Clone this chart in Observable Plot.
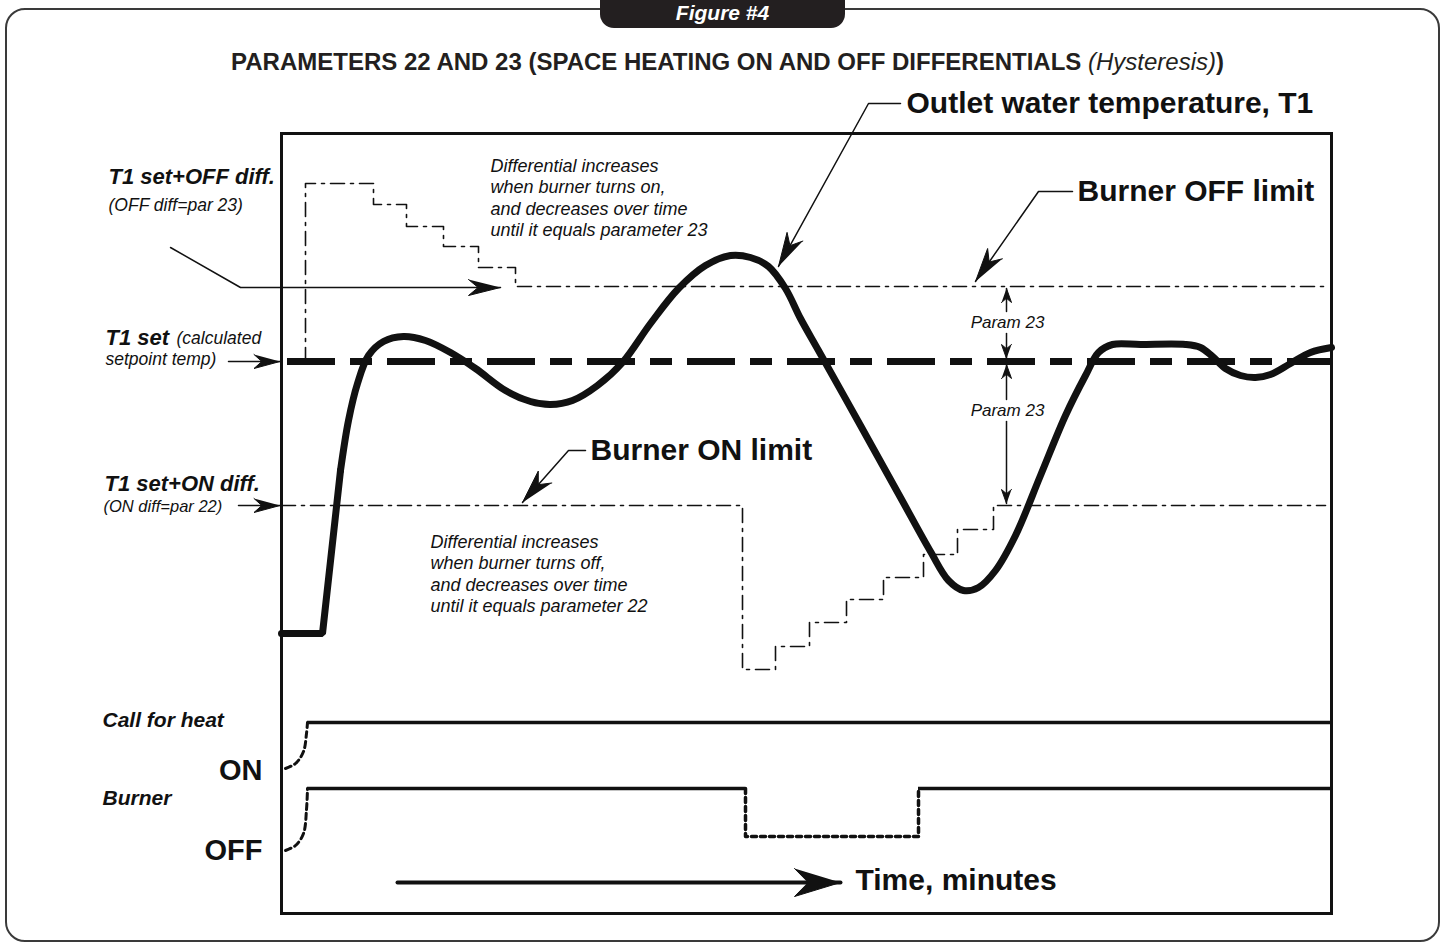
<!DOCTYPE html>
<html>
<head>
<meta charset="utf-8">
<script src="https://cdn.jsdelivr.net/npm/d3@7"></script>
<script src="https://cdn.jsdelivr.net/npm/@observablehq/plot@0.6"></script>
<style>
html, body { margin: 0; padding: 0; background: #fff; }
#wrap { position: relative; width: 1445px; height: 947px; overflow: hidden; font-family: "Liberation Sans", Arial, sans-serif; color: #1a1a1a; }
#chart { position: absolute; left: 0; top: 0; }
#outer { position: absolute; left: 5px; top: 8px; width: 1435px; height: 934px; box-sizing: border-box; border: 2px solid #3a3a3a; border-radius: 20px; pointer-events: none; }
#tab { position: absolute; left: 600px; top: -12px; width: 245px; height: 40px; background: #231f20; border-radius: 0 0 14px 14px; color: #fff; font-weight: bold; font-style: italic; font-size: 21px; line-height: 22px; text-align: center; box-sizing: border-box; padding-top: 14px; }
#title { position: absolute; left: 0; top: 48px; width: 1455px; text-align: center; font-weight: bold; font-size: 24px; line-height: 28px; color: #231f20; white-space: nowrap; }
#title i { font-weight: normal; }
</style>
</head>
<body>
<div id="wrap">
  <div id="chart"></div>
  <div id="outer"></div>
  <div id="tab">Figure #4</div>
  <div id="title">PARAMETERS 22 AND 23 (SPACE HEATING ON AND OFF DIFFERENTIALS <i>(Hysteresis)</i>)</div>
</div>
<script>
// ---------- data (time in minutes, temperature in arbitrary degrees) ----------
const warmupTime = [0, 4.1, 5.9];
const warmupTemp = [70, 70, 110.75];

const t1Time = [5.9,6.7,7.6,8.7,10.2,12.2,14.4,16.9,19.4,22.4,24.9,26.9,29.1,31.6,34.1,36.9,39.7,42.4,44.9,46.9,48.7,50.4,51.9,53.7,57.9,61.9,64.9,66.7,68.2,69.7,71.4,73.4,75.9,78.4,80.4,81.7,83.1,85.9,90.4,91.9,93.1,94.4,95.9,97.4,98.9,100.9,102.9,105];
const t1Temp = [110.75,123.25,132.5,139.5,143,144.25,143.25,140.25,136.25,130.75,128,127.25,128.25,132,137.75,147.5,156.25,162,164.5,164,161.75,156.25,148.75,140.75,122,104,90.5,83.25,80.75,81.5,85.75,94.5,109.5,124.5,134.5,140.25,142.25,142.25,142.25,141.5,139.25,136.25,134.5,134,134.75,137.5,140.25,141.5];

const setpointTemp = 138;

// burner OFF limit (T1 set + OFF differential), stepping down to parameter 23
const offLimitTime = [2.4, 2.4, 9.2, 12.5, 16.2, 19.7, 23.4, 104.4];
const offLimitTemp = [138, 182.5, 177.25, 171.75, 166.75, 161.5, 156.75, 156.75];

// burner ON limit (T1 set - ON differential), stepping back up to parameter 22
const onLimitTime = [0, 46.1, 49.4, 52.8, 56.5, 60.2, 64.2, 67.6, 71.2, 104.4];
const onLimitTemp = [102, 61, 66.75, 72.75, 78.5, 84, 89.75, 96, 102, 102];

// digital signals
const callLevel = 47.75;
const callLeadTime = [0.4, 1.4, 2.2, 2.5, 2.6];
const callLeadLevel = [36.25, 37.5, 40.5, 45, 47.75];
const burnerOnLevel = 31.25;
const burnerOffLevel = 19.25;
const burnerLeadTime = [0.4, 1.4, 2.2, 2.5, 2.6];
const burnerLeadLevel = [15.75, 17, 20, 26, 31.25];
const burnerOffStart = 46.4;
const burnerOffEnd = 63.7;
const signalStart = 2.6;
const signalEnd = 105;

// annotation leaders (time, temperature)
const leaderOffDiff = [[-11.1, 166.5], [-4.1, 156.5], [21.9, 156.5]];
const leaderSetpoint = [[-5.3, 138], [-0.15, 138]];
const leaderOnDiff = [[-4.3, 102], [-0.15, 102]];
const leaderOutlet = [[61.9, 202.5], [58.7, 202.5], [49.7, 161.75]];
const leaderOffLimit = [[79.1, 180.5], [75.7, 180.5], [69.4, 158]];
const leaderOnLimit = [[30.4, 115.75], [28.7, 115.75], [24.1, 102.75]];
const param23Upper = [[72.5, 150.5], [72.5, 156.25], [72.5, 145], [72.5, 138.75]];
const param23Lower = [[72.5, 128.5], [72.5, 137.25], [72.5, 123], [72.5, 102.5]];
const timeArrow = [[11.6, 7.75], [55.9, 7.75]];

// ---------- layout ----------
const W = 1445, H = 947, ML = 281, MR = 114, MT = 133, MB = 34;
const xDomain = [0, 105], yDomain = [0, 195];
const kx = (W - ML - MR) / (xDomain[1] - xDomain[0]);
const ky = (H - MT - MB) / (yDomain[1] - yDomain[0]);

// arrow head polygon (pixel sizes L, Wd) converted to data units
function headPoly(tip, from, L, Wd, id) {
  const dxs = (tip[0] - from[0]) * kx, dys = -(tip[1] - from[1]) * ky;
  const len = Math.hypot(dxs, dys), ux = dxs / len, uy = dys / len, px = -uy, py = ux;
  const toData = (sx, sy) => ({x: tip[0] + sx / kx, y: tip[1] - sy / ky, id});
  return [
    toData(0, 0),
    toData(-L * ux + Wd * px, -L * uy + Wd * py),
    toData(-0.7 * L * ux, -0.7 * L * uy),
    toData(-L * ux - Wd * px, -L * uy - Wd * py)
  ];
}

const heads = [];
let hid = 0;
function addHead(pts, L, Wd) {
  const n = pts.length;
  heads.push(...headPoly(pts[n - 1], pts[n - 2], L, Wd, hid++));
}
addHead(leaderOffDiff, 32, 8);
addHead(leaderSetpoint, 26, 7);
addHead(leaderOnDiff, 26, 7);
addHead(leaderOutlet, 34, 9);
addHead(leaderOffLimit, 34, 9);
addHead(leaderOnLimit, 34, 9);
addHead(param23Upper.slice(0, 2), 14, 5);
addHead(param23Upper.slice(2, 4), 14, 5);
addHead(param23Lower.slice(0, 2), 14, 5);
addHead(param23Lower.slice(2, 4), 14, 5);
const timeHeads = headPoly(timeArrow[1], timeArrow[0], 46, 14, 99);

const font = "Liberation Sans, Arial, sans-serif";
const ink = "#111";
function label(text, x, y, opts) {
  return Plot.text([{x, y, text}], {x: "x", y: "y", text: "text", fill: ink, fontFamily: font, textAnchor: "start", ...opts});
}
const thin = {stroke: ink, strokeWidth: 1.5};

const chart = Plot.plot({
  width: W, height: H,
  marginLeft: ML, marginRight: MR, marginTop: MT, marginBottom: MB,
  x: {domain: xDomain, axis: null},
  y: {domain: yDomain, axis: null},
  style: {background: "transparent", overflow: "visible"},
  marks: [
    // differential limits
    Plot.line(d3.zip(offLimitTime, offLimitTemp), {curve: "step-after", stroke: ink, strokeWidth: 1.6, strokeDasharray: "14,6,3,6"}),
    Plot.line(d3.zip(onLimitTime, onLimitTemp), {curve: "step-after", stroke: ink, strokeWidth: 1.6, strokeDasharray: "14,6,3,6"}),
    // setpoint
    Plot.ruleY([setpointTemp], {stroke: ink, strokeWidth: 7, strokeDasharray: "48,15,22,15", strokeDashoffset: -6}),
    // outlet temperature
    Plot.line(d3.zip(warmupTime, warmupTemp), {stroke: ink, strokeWidth: 7, strokeLinejoin: "miter"}),
    Plot.line(d3.zip(t1Time, t1Temp), {curve: "catmull-rom", stroke: ink, strokeWidth: 7, strokeLinejoin: "round"}),
    // signals
    Plot.line(d3.zip(callLeadTime, callLeadLevel), {curve: "catmull-rom", stroke: ink, strokeWidth: 3, strokeDasharray: "6,4"}),
    Plot.ruleY([callLevel], {x1: signalStart, x2: signalEnd, stroke: ink, strokeWidth: 3.5}),
    Plot.line(d3.zip(burnerLeadTime, burnerLeadLevel), {curve: "catmull-rom", stroke: ink, strokeWidth: 3, strokeDasharray: "6,4"}),
    Plot.ruleY([burnerOnLevel], {x1: signalStart, x2: burnerOffStart, stroke: ink, strokeWidth: 3.5}),
    Plot.ruleY([burnerOnLevel], {x1: burnerOffEnd, x2: signalEnd, stroke: ink, strokeWidth: 3.5}),
    Plot.line([[burnerOffStart, burnerOnLevel], [burnerOffStart, burnerOffLevel], [burnerOffEnd, burnerOffLevel], [burnerOffEnd, burnerOnLevel]], {stroke: ink, strokeWidth: 3.5, strokeDasharray: "5,4"}),
    // leaders
    Plot.line(leaderOffDiff, thin),
    Plot.line(leaderSetpoint, thin),
    Plot.line(leaderOnDiff, thin),
    Plot.line(leaderOutlet, thin),
    Plot.line(leaderOffLimit, thin),
    Plot.line(leaderOnLimit, thin),
    Plot.line(param23Upper.slice(0, 2), thin),
    Plot.line(param23Upper.slice(2, 4), thin),
    Plot.line(param23Lower.slice(0, 2), thin),
    Plot.line(param23Lower.slice(2, 4), thin),
    Plot.line(heads, {x: "x", y: "y", z: "id", fill: ink, stroke: ink, strokeWidth: 1}),
    Plot.line(timeArrow, {stroke: ink, strokeWidth: 4}),
    Plot.line(timeHeads, {x: "x", y: "y", z: "id", fill: ink, stroke: ink, strokeWidth: 1}),
    // frame
    Plot.frame({stroke: ink, strokeWidth: 3}),
    // labels
    label("Outlet water temperature, T1", 62.5, 202.5, {fontSize: 30, fontWeight: "bold"}),
    label("Burner OFF limit", 79.6, 180.5, {fontSize: 30, fontWeight: "bold"}),
    label("Burner ON limit", 30.9, 115.75, {fontSize: 30, fontWeight: "bold"}),
    label("Time, minutes", 57.4, 8.25, {fontSize: 30, fontWeight: "bold"}),
    label("ON", -1.9, 35.75, {fontSize: 29, fontWeight: "bold", textAnchor: "end"}),
    label("OFF", -1.9, 15.75, {fontSize: 29, fontWeight: "bold", textAnchor: "end"}),
    label("Call for heat", -17.9, 48.25, {fontSize: 21, fontWeight: "bold", fontStyle: "italic"}),
    label("Burner", -17.9, 28.75, {fontSize: 21, fontWeight: "bold", fontStyle: "italic"}),
    label("T1 set+OFF diff.", -17.3, 184.25, {fontSize: 22, fontWeight: "bold", fontStyle: "italic"}),
    label("(OFF diff=par 23)", -17.3, 177, {fontSize: 17.5, fontStyle: "italic"}),
    label("T1 set", -17.6, 144, {fontSize: 22, fontWeight: "bold", fontStyle: "italic"}),
    label("(calculated", -10.5, 143.75, {fontSize: 17.5, fontStyle: "italic"}),
    label("setpoint temp)", -17.6, 138.5, {fontSize: 17.5, fontStyle: "italic"}),
    label("T1 set+ON diff.", -17.7, 107.5, {fontSize: 22, fontWeight: "bold", fontStyle: "italic"}),
    label("(ON diff=par 22)", -17.8, 101.75, {fontSize: 16.5, fontStyle: "italic"}),
    label("Differential increases\nwhen burner turns on,\nand decreases over time\nuntil it equals parameter 23", 20.9, 179.1, {fontSize: 18, fontStyle: "italic", lineHeight: 1.2}),
    label("Differential increases\nwhen burner turns off,\nand decreases over time\nuntil it equals parameter 22", 14.9, 85.1, {fontSize: 18, fontStyle: "italic", lineHeight: 1.2}),
    label("Param 23", 72.6, 147.75, {fontSize: 17, fontStyle: "italic", textAnchor: "middle"}),
    label("Param 23", 72.6, 125.75, {fontSize: 17, fontStyle: "italic", textAnchor: "middle"})
  ]
});
document.getElementById("chart").appendChild(chart);
</script>
</body>
</html>
